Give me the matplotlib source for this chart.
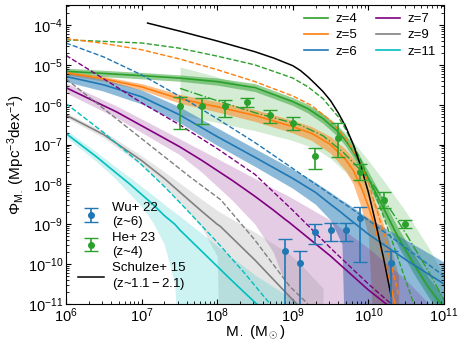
import numpy as np
import matplotlib.pyplot as plt
from matplotlib.ticker import NullFormatter

plt.rcParams['font.family'] = ['Liberation Sans', 'DejaVu Sans']
plt.rcParams['mathtext.fontset'] = 'custom'
plt.rcParams['mathtext.rm'] = 'Liberation Sans'
plt.rcParams['mathtext.it'] = 'Liberation Sans:italic'
plt.rcParams['mathtext.bf'] = 'Liberation Sans:bold'

# ---- data (log10 M, log10 Phi) ----
# Schulze+15
sch_m = [7.08, 7.5, 8.0, 8.5, 8.75, 9.0, 9.1, 9.2, 9.3, 9.4, 9.5, 9.6, 9.7, 9.8, 9.9, 10.0, 10.1, 10.2, 10.3]
sch_p = [-3.95, -4.15, -4.4, -4.67, -4.83, -5.02, -5.14, -5.3, -5.48, -5.67, -5.9, -6.2, -6.55, -7.0, -7.55, -8.2, -9.0, -9.85, -10.8]

# z=4
z4_m = [6, 7, 7.5, 8, 8.5, 9, 9.2, 9.4, 9.6, 9.7, 9.8, 9.9, 10.0, 10.1, 10.2, 10.4, 10.6, 10.8, 11]
z4_sol = [-5.16, -5.27, -5.33, -5.42, -5.57, -5.92, -6.1, -6.35, -6.68, -6.9, -7.18, -7.5, -7.85, -8.22, -8.6, -9.35, -10.0, -10.6, -11.1]
z4_hi = [-5.08, -5.19, -5.25, -5.33, -5.47, -5.82, -5.99, -6.23, -6.55, -6.76, -7.03, -7.34, -7.68, -8.03, -8.4, -9.12, -9.75, -10.35, -10.85]
z4_lo = [-5.24, -5.35, -5.41, -5.51, -5.67, -6.02, -6.21, -6.47, -6.81, -7.04, -7.33, -7.66, -8.02, -8.41, -8.8, -9.58, -10.25, -10.85, -11.35]
z4_dm = [6, 7, 7.5, 8, 8.5, 9, 9.2, 9.4, 9.6, 9.7, 9.8, 9.9, 10.0, 10.1, 10.2, 10.4, 10.6]
z4_das = [-4.37, -4.45, -4.58, -4.78, -5.0, -5.33, -5.55, -5.85, -6.3, -6.62, -7.0, -7.4, -7.85, -8.3, -8.8, -9.9, -11.0]

# He+23 fit (z~4)
he_fm = [7.51, 8.0, 8.5, 9.1, 9.4, 9.67, 9.85, 9.98, 10.1, 10.2, 10.35, 10.5, 10.8, 11.0]
he_fit = [-5.59, -5.9, -6.2, -6.51, -6.78, -7.2, -7.55, -7.81, -8.1, -8.38, -8.8, -9.25, -10.2, -10.9]
he_bm = [7.51, 8.0, 8.5, 9.0, 9.3, 9.5, 9.7, 9.85, 10.0, 10.2, 10.5, 10.8, 11.0]
he_hi = [-5.05, -5.3, -5.6, -5.9, -6.1, -6.35, -6.7, -7.05, -7.4, -7.9, -8.7, -9.6, -10.3]
he_lo = [-6.25, -6.45, -6.65, -6.9, -7.1, -7.35, -7.7, -8.0, -8.35, -8.95, -9.8, -10.7, -11.3]

# z=5
z5_m = [6, 6.5, 7, 7.5, 8, 8.5, 9, 9.25, 9.5, 9.7, 9.8, 9.9, 10.0, 10.1, 10.2, 10.3, 10.4]
z5_sol = [-5.2, -5.35, -5.55, -5.85, -6.05, -6.27, -6.55, -6.72, -7.0, -7.38, -7.65, -8.05, -8.55, -9.15, -9.85, -10.6, -11.4]
z5_hi = [-5.15, -5.29, -5.47, -5.74, -5.92, -6.12, -6.39, -6.55, -6.8, -7.12, -7.35, -7.65, -8.05, -8.5, -9.0, -9.6, -10.3]
z5_lo = [-5.25, -5.41, -5.63, -5.96, -6.18, -6.42, -6.71, -6.9, -7.22, -7.66, -8.0, -8.55, -9.3, -13, -13, -13, -13]
z5_dm = [6, 6.5, 7, 7.5, 8, 8.5, 9, 9.25, 9.5, 9.7, 9.85, 10.0, 10.2, 10.4]
z5_das = [-4.34, -4.46, -4.62, -4.85, -5.12, -5.42, -5.78, -6.02, -6.4, -6.85, -7.3, -7.95, -9.2, -10.8]

# z=6
z6_m = [6, 6.5, 7, 7.5, 8, 8.5, 9, 9.3, 9.5, 9.65, 9.7, 10, 10.5, 11]
z6_sol = [-5.29, -5.5, -5.8, -6.25, -6.8, -7.32, -7.85, -8.2, -8.5, -8.72, -8.8, -9.25, -9.9, -10.5]
z6_hi = [-5.18, -5.36, -5.63, -6.05, -6.58, -7.1, -7.62, -7.95, -8.2, -8.4, -8.45, -8.85, -9.4, -9.95]
z6_lo = [-5.42, -5.66, -5.98, -6.45, -7.02, -7.55, -8.1, -8.5, -8.9, -9.5, -13, -13, -13, -13]
z6_dm = [6, 6.5, 7, 7.6, 8, 8.5, 9, 9.23, 9.5, 10, 10.5, 11]
z6_das = [-4.45, -4.8, -5.25, -5.89, -6.35, -6.95, -7.6, -7.9, -8.25, -8.9, -9.6, -10.3]

# z=7
z7_m = [6, 6.67, 7.5, 7.8, 8.2, 8.5, 8.74, 8.9, 8.95, 9.5, 10.0, 10.5, 10.8]
z7_sol = [-5.57, -6.18, -7.05, -7.4, -7.9, -8.3, -8.64, -8.88, -8.95, -9.8, -10.65, -11.4, -11.8]
z7_hi = [-5.45, -6.03, -6.85, -7.15, -7.55, -7.85, -8.1, -8.25, -8.3, -8.9, -9.6, -10.4, -11.0]
z7_lo = [-5.7, -6.33, -7.25, -7.7, -8.4, -9.0, -9.7, -10.5, -13, -13, -13, -13, -13]
z7_dm = [6, 6.5, 7, 7.5, 8, 8.5, 9, 9.5, 10, 10.3]
z7_das = [-4.76, -5.35, -5.95, -6.5, -7.1, -7.75, -8.65, -9.6, -10.5, -11.0]

# z=9
z9_m = [6, 6.5, 7, 7.3, 7.6, 7.8, 8.0, 8.04, 8.5, 8.96, 9.1, 9.4]
z9_sol = [-6.26, -6.75, -7.4, -7.85, -8.35, -8.68, -9.0, -9.05, -9.9, -10.82, -11.1, -11.7]
z9_hi = [-6.2, -6.67, -7.28, -7.68, -8.1, -8.38, -8.65, -8.7, -9.2, -9.75, -10.0, -10.6]
z9_lo = [-6.32, -6.83, -7.52, -8.05, -8.65, -9.1, -9.8, -13, -13, -13, -13, -13]
z9_dm = [6, 6.36, 7.0, 7.64, 8.05, 8.5, 8.96, 9.2]
z9_das = [-5.35, -5.89, -6.85, -7.81, -8.39, -9.4, -10.56, -11.0]

# z=11
z11_m = [6, 6.4, 6.65, 6.85, 7.0, 7.15, 7.3, 7.44, 7.51, 8.17, 8.52, 9.1]
z11_sol = [-6.72, -7.3, -7.69, -8.0, -8.25, -8.5, -8.78, -9.0, -9.15, -10.37, -11.0, -12.0]
z11_hi = [-6.63, -7.18, -7.55, -7.83, -8.05, -8.27, -8.5, -8.7, -8.8, -9.8, -10.3, -11.0]
z11_lo = [-6.81, -7.42, -7.85, -8.25, -8.55, -8.95, -9.5, -10.5, -13, -13, -13, -13]
z11_dm = [6, 6.5, 6.98, 7.3, 7.6, 8.0, 8.35, 8.7]
z11_das = [-5.97, -6.7, -7.47, -8.05, -8.64, -9.45, -10.2, -11.0]

# He+23 binned points (z~4)
he_m = [7.51, 7.80, 8.10, 8.39, 8.70, 9.00, 9.30, 9.60, 9.89, 10.20, 10.49]
he_p = [-6.04, -6.04, -6.04, -5.93, -6.26, -6.45, -7.28, -6.83, -7.68, -8.38, -8.99]
he_up = [-5.8, -5.83, -5.87, -5.84, -6.13, -6.3, -7.08, -6.45, -7.5, -8.2, -8.9]
he_dn = [-6.6, -6.48, -6.3, -6.05, -6.45, -6.63, -7.62, -7.3, -7.9, -8.6, -9.1]

# Wu+22 points (z~6)
wu_m = [8.90, 9.10, 9.30, 9.50, 9.70, 9.89, 10.30]
wu_p = [-9.68, -9.97, -9.20, -9.14, -9.14, -8.84, -9.97]
wu_up = [-9.38, -9.68, -9.0, -8.96, -8.96, -8.57, -9.68]
wu_dn = [-13, -13, -9.5, -9.42, -9.42, -9.95, -13]

colors = {'4': 'tab:green', '5': 'tab:orange', '6': 'tab:blue',
          '7': 'purple', '9': 'gray', '11': 'c'}
band_alpha = {'4': 0.5, '5': 0.5, '6': 0.5, '7': 0.2, '9': 0.2, '11': 0.2}

fig = plt.figure(figsize=(4.64, 3.43), dpi=100)
ax = fig.add_axes([0.142, 0.114, 0.815, 0.871])

def p(a):
    return 10 ** np.array(a, dtype=float)

models = [
    ('4', z4_m, z4_sol, z4_hi, z4_lo, z4_dm, z4_das),
    ('5', z5_m, z5_sol, z5_hi, z5_lo, z5_dm, z5_das),
    ('6', z6_m, z6_sol, z6_hi, z6_lo, z6_dm, z6_das),
    ('7', z7_m, z7_sol, z7_hi, z7_lo, z7_dm, z7_das),
    ('9', z9_m, z9_sol, z9_hi, z9_lo, z9_dm, z9_das),
    ('11', z11_m, z11_sol, z11_hi, z11_lo, z11_dm, z11_das),
]

# He+23 band and fit
ax.fill_between(p(he_bm), p(he_lo), p(he_hi), color='tab:green', alpha=0.2, lw=0)
ax.plot(p(he_fm), p(he_fit), color='tab:green', ls='-.', lw=1)

handles = []
for z, m, sol, hi, lo, dm, das in models:
    c = colors[z]
    ax.fill_between(p(m), p(lo), p(hi), color=c, alpha=band_alpha[z], lw=0)
    h, = ax.plot(p(m), p(sol), color=c, lw=1.2, label='z=' + z)
    ax.plot(p(dm), p(das), color=c, lw=1, ls='--')
    handles.append(h)

h_sch, = ax.plot(p(sch_m), p(sch_p), color='k', lw=1.1)

he_y = p(he_p)
h_he = ax.errorbar(p(he_m), he_y, yerr=[he_y - p(he_dn), p(he_up) - he_y],
                   fmt='o', color='tab:green', ms=4, capsize=5, elinewidth=1.2)
wu_y = p(wu_p)
h_wu = ax.errorbar(p(wu_m), wu_y, yerr=[wu_y - p(wu_dn), p(wu_up) - wu_y],
                   fmt='o', color='tab:blue', ms=4, capsize=5, elinewidth=1.2)

ax.set_xscale('log')
ax.set_yscale('log')
ax.set_xlim(1e6, 1e11)
ax.set_ylim(1e-11, 10 ** -3.5)
ax.xaxis.set_minor_formatter(NullFormatter())
ax.yaxis.set_minor_formatter(NullFormatter())
ax.tick_params(which='both', direction='in', top=True, right=True, labelsize=10.5, pad=2)
ax.set_xlabel(r'M$_\bullet$ (M$_\odot$)', fontsize=11, labelpad=-1.5)
ax.set_ylabel(r'$\Phi_{\rm M_\bullet}$ (Mpc$^{-3}$dex$^{-1}$)', fontsize=11, labelpad=1)

leg1 = ax.legend(handles=handles, loc='upper right', ncol=2, frameon=False,
                 fontsize=9.5, handlelength=1.8, handletextpad=0.6, columnspacing=1.4,
                 labelspacing=0.3, borderaxespad=0.2)
ax.add_artist(leg1)
ax.legend([h_wu, h_he, h_sch], ['Wu+ 22\n(z~6)', 'He+ 23\n(z~4)', 'Schulze+ 15\n' + r'(z~$1.1-2.1$)'],
          loc='lower left', frameon=False, fontsize=9.5, labelspacing=0.3, handletextpad=0.6)

fig.savefig('out.png', dpi=100)
